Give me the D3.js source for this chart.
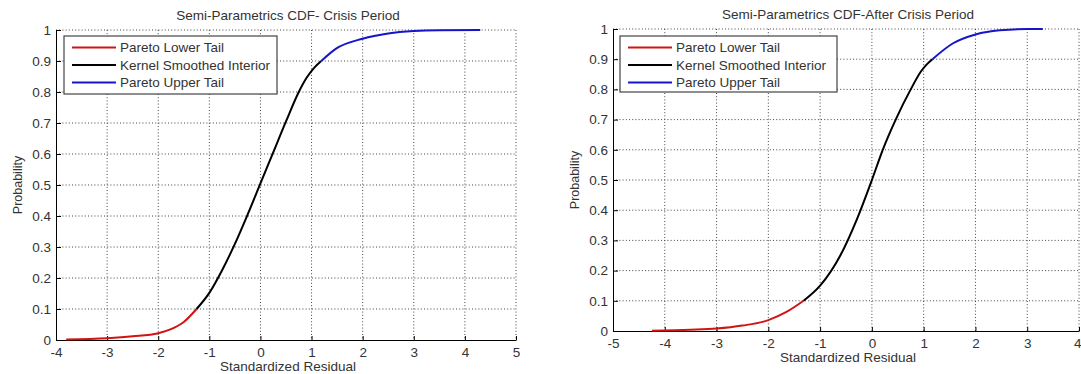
<!DOCTYPE html>
<html>
<head>
<meta charset="utf-8">
<script src="https://cdnjs.cloudflare.com/ajax/libs/d3/7.8.5/d3.min.js"></script>
<style>
    body { margin: 0; background: #fff; }
    text { font-family: "Liberation Sans", Arial, sans-serif; fill: #333; }
    .grid { stroke: #444; stroke-width: 1; stroke-dasharray: 1,2.2; }
    .axis path, .axis line { stroke: #000; }
</style>
</head>
<body>
<svg id="chart" width="1081" height="374"></svg>
<script>

var seriesNames = ["Pareto Lower Tail", "Kernel Smoothed Interior", "Pareto Upper Tail"];
var seriesColors = ["#d01414", "#000000", "#1616c8"];

var yTicks = [0, 0.1, 0.2, 0.3, 0.4, 0.5, 0.6, 0.7, 0.8, 0.9, 1];
var crisisXTicks = [-4, -3, -2, -1, 0, 1, 2, 3, 4, 5];
var afterXTicks = [-5, -4, -3, -2, -1, 0, 1, 2, 3, 4];

// Crisis period: [residual, probability]
var crisisLower = [[-3.8, 0.002], [-3.0, 0.006], [-2.5, 0.012], [-2.0, 0.022], [-1.75, 0.035], [-1.5, 0.058], [-1.25, 0.10]];
var crisisInterior = [[-1.25, 0.10], [-1.0, 0.152], [-0.75, 0.225], [-0.5, 0.31], [-0.25, 0.405], [0.0, 0.505],
    [0.25, 0.605], [0.5, 0.705], [0.75, 0.80], [0.9, 0.845], [1.05, 0.878], [1.19, 0.90]];
var crisisUpper = [[1.19, 0.90], [1.48, 0.94], [2.0, 0.972], [2.5, 0.989], [3.0, 0.997], [3.5, 0.9995], [4.3, 1.0]];

// After crisis period
var afterLower = [[-4.25, 0.001], [-3.5, 0.004], [-3.0, 0.008], [-2.5, 0.018], [-2.0, 0.036], [-1.65, 0.063], [-1.32, 0.10]];
var afterInterior = [[-1.32, 0.10], [-1.0, 0.15], [-0.61, 0.25], [-0.29, 0.37], [0.0, 0.50], [0.21, 0.60],
    [0.46, 0.70], [0.75, 0.80], [0.95, 0.86], [1.06, 0.883], [1.17, 0.90]];
var afterUpper = [[1.17, 0.90], [1.56, 0.952], [2.0, 0.982], [2.47, 0.996], [3.0, 1.0], [3.3, 1.0]];

var svg = d3.select('svg#chart');

drawPanel({
    title: "Semi-Parametrics CDF- Crisis Period",
    xDomain: [-4, 5], xTicks: crisisXTicks,
    left: 56, right: 516, top: 30, bottom: 340,
    legend: { x: 64, y: 36, w: 213, h: 58 },
    series: [crisisLower, crisisInterior, crisisUpper]
});

drawPanel({
    title: "Semi-Parametrics CDF-After Crisis Period",
    xDomain: [-5, 4], xTicks: afterXTicks,
    left: 613, right: 1079, top: 29, bottom: 331,
    legend: { x: 620, y: 36, w: 217, h: 56 },
    series: [afterLower, afterInterior, afterUpper]
});

function drawPanel(p) {
    var x = d3.scaleLinear().domain(p.xDomain).range([p.left, p.right]);
    var y = d3.scaleLinear().domain([0, 1]).range([p.bottom, p.top]);
    var g = svg.append('g');

    // dotted grid (not on the axes themselves)
    g.selectAll('line.vgrid')
        .data(p.xTicks.slice(1))
        .enter().append('line')
        .attr('class', 'grid')
        .attr('x1', d => x(d)).attr('x2', d => x(d))
        .attr('y1', p.top).attr('y2', p.bottom);
    g.selectAll('line.hgrid')
        .data(yTicks.slice(1))
        .enter().append('line')
        .attr('class', 'grid')
        .attr('x1', p.left).attr('x2', p.right)
        .attr('y1', d => y(d)).attr('y2', d => y(d));

    // axes, ticks pointing inward, plain hyphen minus like matlab
    var xAxis = g.append('g')
        .attr('class', 'axis')
        .attr('transform', 'translate(0,' + p.bottom + ')')
        .call(d3.axisBottom(x).tickValues(p.xTicks).tickSize(-4).tickSizeOuter(0).tickPadding(7)
            .tickFormat(d => String(d)));
    xAxis.selectAll('text').style('font-size', '13.5px').attr('fill', '#333');
    // last label sits on the page edge, keep it inside
    if (x(p.xTicks[p.xTicks.length - 1]) > 1070)
        xAxis.selectAll('text').filter((d, i, n) => i === n.length - 1)
            .attr('text-anchor', 'end').attr('x', 2);

    var yAxis = g.append('g')
        .attr('class', 'axis')
        .attr('transform', 'translate(' + p.left + ',0)')
        .call(d3.axisLeft(y).tickValues(yTicks).tickSize(-5).tickSizeOuter(0).tickPadding(5)
            .tickFormat(d => (d === 0 || d === 1) ? d : d.toFixed(1)));
    yAxis.selectAll('text').style('font-size', '13.5px').attr('fill', '#333');

    g.append('text')
        .attr('x', (p.left + p.right) / 2 + 2)
        .attr('y', p.top - 10)
        .attr('text-anchor', 'middle')
        .style('font-size', '13.5px')
        .text(p.title);

    g.append('text')
        .attr('x', (p.left + p.right) / 2 + 2)
        .attr('y', p.bottom + 31)
        .attr('text-anchor', 'middle')
        .style('font-size', '13.5px')
        .text("Standardized Residual");

    g.append('text')
        .attr('transform', 'translate(' + (p.left - 34) + ',' + ((p.top + p.bottom) / 2) + ') rotate(-90)')
        .attr('text-anchor', 'middle')
        .style('font-size', '12.5px')
        .attr('fill', '#555')
        .text("Probability");

    // the three pieces of the cdf
    var line = d3.line()
        .x(d => x(d[0]))
        .y(d => y(d[1]))
        .curve(d3.curveMonotoneX);

    g.selectAll('path.cdf')
        .data(p.series)
        .enter().append('path')
        .attr('class', 'cdf')
        .attr('fill', 'none')
        .attr('stroke', (d, i) => seriesColors[i])
        .attr('stroke-width', 2)
        .attr('d', line);

    // legend
    var lg = g.append('g').attr('transform', 'translate(' + p.legend.x + ',' + p.legend.y + ')');
    lg.append('rect')
        .attr('width', p.legend.w).attr('height', p.legend.h)
        .attr('fill', '#fff').attr('stroke', '#444').attr('stroke-width', 1.2);
    var rows = lg.selectAll('g.row')
        .data(seriesNames)
        .enter().append('g')
        .attr('transform', (d, i) => 'translate(0,' + (11.5 + i * 17.5) + ')');
    rows.append('line')
        .attr('x1', 8).attr('x2', 52)
        .attr('stroke', (d, i) => seriesColors[i])
        .attr('stroke-width', 2);
    rows.append('text')
        .attr('x', 56)
        .attr('dy', '0.35em')
        .style('font-size', '13.5px')
        .attr('fill', '#222')
        .text(d => d);
}
</script>
</body>
</html>
